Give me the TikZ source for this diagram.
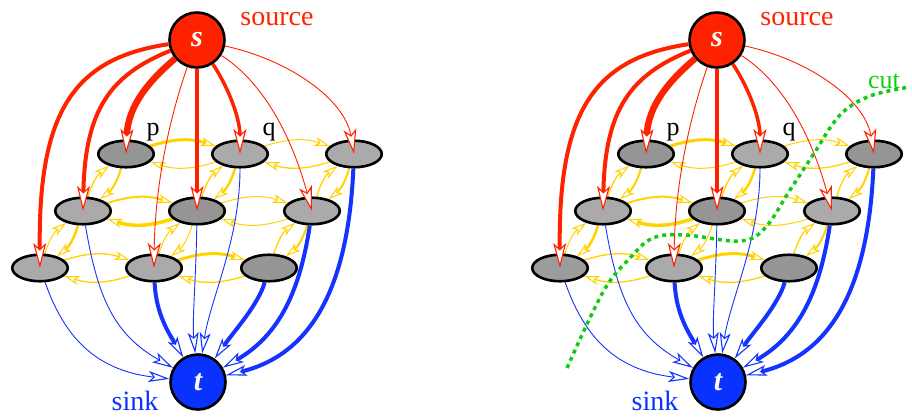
\documentclass[tikz,border=0pt]{standalone}
\usepackage{fontspec}
\setmainfont{Liberation Serif}
\usetikzlibrary{arrows.meta,shapes.geometric}
\pgfdeclarelayer{bg}
\pgfsetlayers{bg,main}
\definecolor{srcred}{HTML}{FF2200}
\definecolor{snkblue}{HTML}{0A32FF}
\definecolor{edgeblue}{HTML}{1433FF}
\definecolor{yel}{HTML}{FFD200}
\definecolor{cutgreen}{HTML}{11CC11}
\definecolor{dk}{HTML}{959595}
\definecolor{lt}{HTML}{AAAAAA}
\definecolor{md}{HTML}{9C9C9C}
\tikzset{
 gnode/.style={ellipse, draw=black, line width=2.6pt, minimum width=55.5pt, minimum height=26.5pt, inner sep=0pt},
 term/.style={circle, draw=black, line width=2.6pt, minimum size=55pt, inner sep=0pt, text=white, font=\fontsize{30}{30}\selectfont\bfseries\itshape},
 redarrow/.style={draw=srcred, -{Stealth[length=25pt,width=13pt,inset=6pt,fill=white,line width=1.1pt]}},
 bluearrow/.style={draw=edgeblue, -{Stealth[length=21pt,width=11pt,inset=5pt,fill=white,line width=1.1pt]}},
 yelarrow/.style={draw=yel, -{Stealth[length=15pt,width=9pt,inset=4pt,fill=white,line width=1pt]}, bend left=18},
 lbl/.style={anchor=base, font=\fontsize{28}{30}\selectfont},
 nlbl/.style={anchor=base, font=\fontsize{26}{28}\selectfont},
}
\newcommand\ypair[4]{\draw[yelarrow,line width=#3] (#1) to (#2); \draw[yelarrow,line width=#4] (#2) to (#1);}
\newcommand\flowgraph[3]{%
 \node[term, fill=srcred] (#1s) at (197,376) {s};
 \node[term, fill=snkblue] (#1t) at (198,34) {t};
 \node[gnode, fill=dk] (#1a1) at (126,262) {};
 \node[gnode, fill=lt] (#1a2) at (240,262) {};
 \node[gnode, fill=#2] (#1a3) at (354,262) {};
 \node[gnode, fill=lt] (#1b1) at (83,205) {};
 \node[gnode, fill=dk] (#1b2) at (197,205) {};
 \node[gnode, fill=lt] (#1b3) at (312,205) {};
 \node[gnode, fill=#3] (#1c1) at (40,148) {};
 \node[gnode, fill=lt] (#1c2) at (154,148) {};
 \node[gnode, fill=dk] (#1c3) at (269,148) {};
 \node[lbl, text=srcred] (#1srclbl) at (277,390) {source};
 \node[lbl, text=snkblue] (#1snklbl) at (135,6) {sink};
 \node[nlbl] (#1plbl) at (153,281) {p};
 \node[nlbl] (#1qlbl) at (269,281) {q};
 \begin{pgfonlayer}{bg}
  \ypair{#1a1}{#1a2}{3pt}{1pt}
  \ypair{#1a2}{#1a3}{1pt}{1.3pt}
  \ypair{#1b1}{#1b2}{2pt}{3.5pt}
  \ypair{#1b2}{#1b3}{1pt}{1pt}
  \ypair{#1c1}{#1c2}{1.3pt}{1.3pt}
  \ypair{#1c2}{#1c3}{3pt}{1.3pt}
  \ypair{#1b1}{#1a1}{1.3pt}{2pt}
  \ypair{#1b2}{#1a2}{1.3pt}{2.5pt}
  \ypair{#1b3}{#1a3}{1.3pt}{2pt}
  \ypair{#1c1}{#1b1}{1pt}{2.5pt}
  \ypair{#1c2}{#1b2}{1pt}{1pt}
  \ypair{#1c3}{#1b3}{1.3pt}{2pt}
  \draw[bluearrow, line width=4pt] (#1a3) .. controls (348,126) and (310,61) .. (#1t);
  \draw[bluearrow, line width=4pt] (#1b3) .. controls (300,126) and (280,81) .. (#1t);
  \draw[bluearrow, line width=4pt] (#1c3) .. controls (258,111) and (235,86) .. (#1t);
  \draw[bluearrow, line width=4pt] (#1c2) .. controls (156,101) and (170,81) .. (#1t);
  \draw[bluearrow, line width=0.9pt] (#1b2) .. controls (196,136) and (192,96) .. (#1t);
  \draw[bluearrow, line width=0.9pt] (#1a2) .. controls (240,176) and (210,116) .. (#1t);
  \draw[bluearrow, line width=0.9pt] (#1b1) .. controls (98,116) and (115,81) .. (#1t);
  \draw[bluearrow, line width=0.9pt] (#1c1) .. controls (62,86) and (90,46) .. (#1t);
 \end{pgfonlayer}
 \draw[redarrow, line width=4pt] (#1s) .. controls (75,358) and (38,306) .. (#1c1.center);
 \draw[redarrow, line width=4pt] (#1s) .. controls (110,341) and (85,306) .. (#1b1.center);
 \draw[redarrow, line width=6.5pt] (#1s) .. controls (150,336) and (128,311) .. (#1a1.center);
 \draw[redarrow, line width=0.9pt] (#1s) .. controls (172,306) and (155,236) .. (#1c2.center);
 \draw[redarrow, line width=4pt] (#1s) -- (#1b2.center);
 \draw[redarrow, line width=3.5pt] (#1s) .. controls (230,326) and (240,296) .. (#1a2.center);
 \draw[redarrow, line width=0.9pt] (#1s) .. controls (260,336) and (290,286) .. (#1b3.center);
 \draw[redarrow, line width=0.9pt] (#1s) .. controls (290,356) and (345,316) .. (#1a3.center);
}
\begin{document}
\begin{tikzpicture}[x=1pt,y=1pt]
\useasboundingbox (0,0) rectangle (912,416);
\flowgraph{L}{lt}{lt}
\begin{scope}[xshift=520pt]
\flowgraph{R}{dk}{md}
\end{scope}
\draw[cutgreen, line width=3.5pt, dash pattern=on 4pt off 4pt] plot[smooth, tension=0.6] coordinates {(567,48) (603,124) (630,158) (653,178) (685,181) (740,175) (765,188) (790,226) (813,261) (840,301) (870,320) (910,329)};
\node[lbl, text=cutgreen, font=\fontsize{26}{28}\selectfont] (cutlbl) at (884,327) {cut};
\end{tikzpicture}
\end{document}
